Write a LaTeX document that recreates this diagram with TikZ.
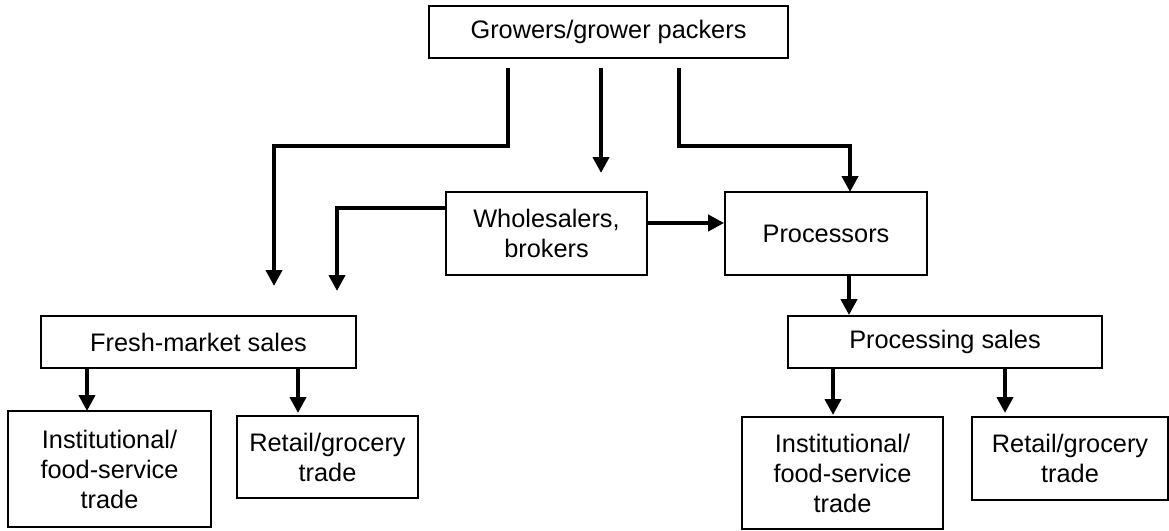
\documentclass[tikz,border=0pt]{standalone}
\usepackage{fontspec}
\setmainfont{Liberation Sans}
\usetikzlibrary{arrows.meta}
\begin{document}
\begin{tikzpicture}[x=0.75pt,y=-0.75pt,
  box/.style={draw=black,line width=1.4pt,rectangle,inner sep=0pt,align=center,
    font=\fontsize{19}{22.5}\selectfont},
  conn/.style={line width=3pt,-{Triangle[length=12pt,width=12pt]}}]
\useasboundingbox (0,0) rectangle (1169,531);
% nodes
\node[box,minimum width=269.25pt,minimum height=39pt] (g) at (608.5,32) {Growers/grower packers};
\node[box,minimum width=150.75pt,minimum height=62.25pt] (w) at (546.5,233.5) {Wholesalers,\\brokers};
\node[box,minimum width=151.5pt,minimum height=62.25pt] (pr) at (826,233.5) {Processors};
\node[box,minimum width=236.25pt,minimum height=39pt] (fm) at (198.5,342) {Fresh-market sales};
\node[box,minimum width=235.5pt,minimum height=39pt] (ps) at (945,342) {Processing sales};
\node[box,minimum width=152.25pt,minimum height=87pt] (il) at (109.5,469) {Institutional/\\food-service\\trade};
\node[box,minimum width=135.75pt,minimum height=61.5pt] (rl) at (327.5,457) {Retail/grocery\\trade};
\node[box,minimum width=150.75pt,minimum height=84pt] (ir) at (842.5,473) {Institutional/\\food-service\\trade};
\node[box,minimum width=147pt,minimum height=62.25pt] (rr) at (1070,458.5) {Retail/grocery\\trade};
% connector end points
\coordinate (g1) at (508,68);
\coordinate (g2) at (601,68);
\coordinate (g3) at (679,68);
\coordinate (fmIn1) at (274,286);
\coordinate (wIn) at (601,173);
\coordinate (prTop) at (850,192);
\coordinate (wOut) at (446,208);
\coordinate (fmIn2) at (337,291);
% connectors
\draw[conn] (g1) -- (508,146) -| (fmIn1);
\draw[conn] (g2) -- (wIn);
\draw[conn] (g3) -- (679,146) -| (prTop);
\draw[conn] (wOut) -| (fmIn2);
\draw[conn] (w.east |- 0,223) -- (pr.west |- 0,223);
\draw[conn] (pr.south -| 849,0) -- (ps.north -| 849,0);
\draw[conn] (fm.south -| 87,0) -- (87,411);
\draw[conn] (fm.south -| 298,0) -- (298,413);
\draw[conn] (ps.south -| 833,0) -- (833,415);
\draw[conn] (ps.south -| 1005,0) -- (1005,413);
\end{tikzpicture}
\end{document}
